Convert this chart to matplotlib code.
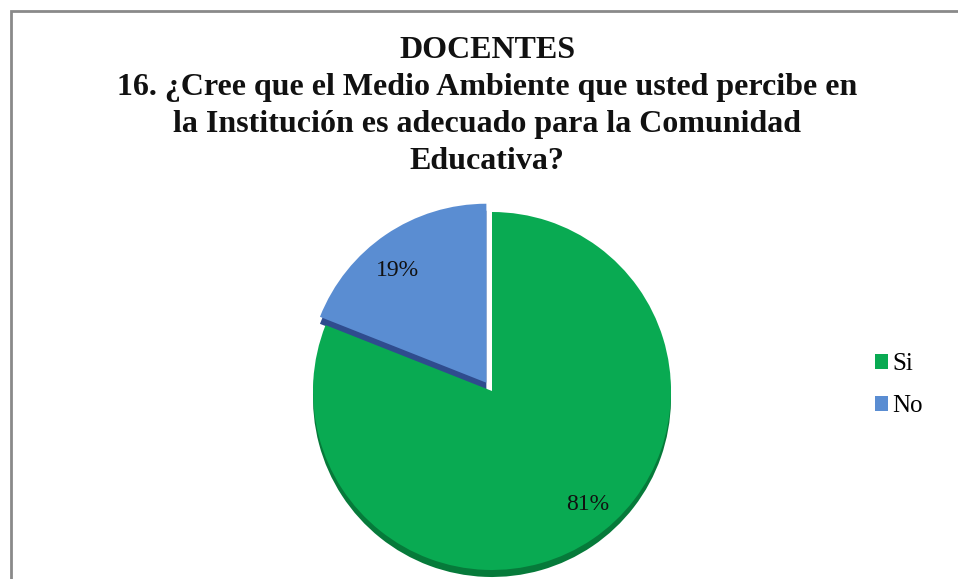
import matplotlib.pyplot as plt
from matplotlib.patches import Rectangle

# data
labels = ["Si", "No"]
values = [81, 19]
pct_text = ["81%", "19%"]
colors = ["#09AA52", "#5A8DD2"]
side_colors = ["#067A3A", "#2F4C8E"]
title_lines = "DOCENTES\n16. ¿Cree que el Medio Ambiente que usted percibe en\nla Institución es adecuado para la Comunidad\nEducativa?"

W, H = 958, 579
fig = plt.figure(figsize=(W / 100, H / 100), dpi=100)
ax = fig.add_axes([0, 0, 1, 1])

# chart frame (cut off on right and bottom)
fig.patches.append(Rectangle((10.5 / W, -0.1), 1.2, (H - 10.5) / H + 0.1,
                             transform=fig.transFigure, fill=False,
                             edgecolor="#8a8a8a", linewidth=2))

cx, cy, r = 492, H - 391, 179
explode = [0, 10]  # matplotlib uses data units for the offset

# thickness (pseudo 3D): darker pie slightly lower
ax.pie(values, colors=side_colors, startangle=90, counterclock=False,
       explode=explode, center=(cx, cy - 7), radius=r, frame=True,
       wedgeprops=dict(linewidth=0))
wedges, _ = ax.pie(values, colors=colors, startangle=90, counterclock=False,
                   explode=explode, center=(cx, cy), radius=r, frame=True,
                   wedgeprops=dict(linewidth=0))
ax.set_xlim(0, W)
ax.set_ylim(0, H)
ax.axis("off")

serif = "Liberation Serif"
ax.text(588, H - 505, pct_text[0], ha="center", va="center",
        fontsize=17, family=serif, color="#111111")
ax.text(397, H - 270, pct_text[1], ha="center", va="center",
        fontsize=17, family=serif, color="#111111")

fig.text(487 / W, 1 - 106 / H, title_lines, ha="center", va="center",
         fontsize=23, fontweight="bold", family=serif, linespacing=1.36,
         color="#111111")

ax.legend(wedges, labels, loc="center left", bbox_to_anchor=(852 / W, 1 - 385 / H),
          bbox_transform=fig.transFigure, frameon=False,
          prop=dict(family=serif, size=18), handlelength=0.55, handleheight=0.55,
          handletextpad=0.15, labelspacing=0.8)

fig.savefig("out.png", dpi=100, facecolor="white")
